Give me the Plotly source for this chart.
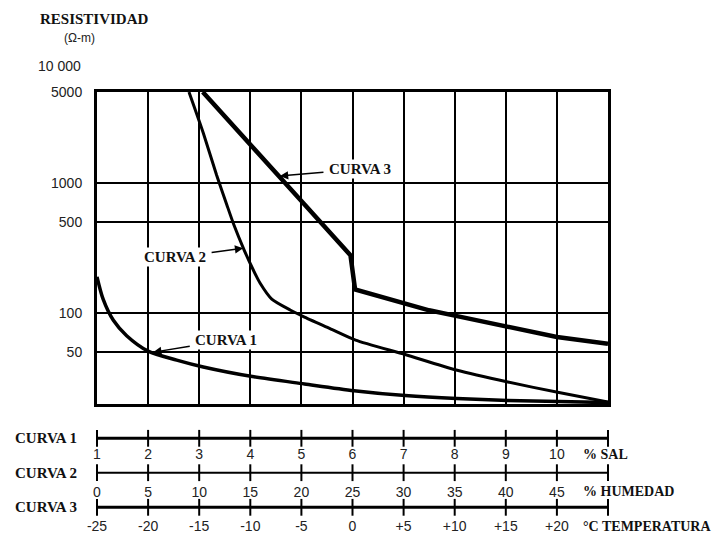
import math
import plotly.graph_objects as go

# ---------------- data ----------------
# CURVA 1 : resistividad (ohm-m) vs % SAL
sal_pct = [1.0, 1.12, 1.32, 1.58, 2.0, 2.56, 3.08, 4.04, 5.06, 6.03, 7.03, 8.04, 9.04, 10.04, 11.0]
res_curva1 = [190, 128, 88, 67, 51, 43.5, 38.5, 32.5, 28.5, 25.3, 23.2, 22.0, 21.3, 20.9, 20.5]

# CURVA 2 : resistividad vs % HUMEDAD
humedad_pct = [9.0, 10.4, 11.7, 12.7, 13.4, 14.4, 15.2, 15.95, 17.1, 18.9, 20.2, 22.8, 25.3,
               30.15, 35.15, 40.2, 45.2, 50.0]
res_curva2 = [5000, 2420, 1150, 680, 475, 305, 222, 170, 128, 105.6, 94, 76, 62,
              48, 36.5, 29.5, 24.5, 20.7]

# CURVA 3 : resistividad vs °C TEMPERATURA
temp_c = [-14.65, -12.5, -10.0, -7.5, -5.0, -2.5, -0.2, 0.25, 2.5, 5.0, 7.5, 10.0,
          12.5, 15.0, 20.0, 25.0]
res_curva3 = [5000, 3270, 1980, 1200, 727, 440, 278, 152, 136, 118, 105, 95.5,
              87, 78.5, 65.5, 58]

# axis ticks
y_ticks = [50, 100, 500, 1000, 5000]
y_ticktext = ["50", "100", "500", "1000", "5000"]
sal_ticks = list(range(1, 12))
sal_text = [str(v) for v in range(1, 11)] + [""]
hum_ticks = list(range(0, 51, 5))
hum_text = [str(v) for v in range(0, 46, 5)] + [""]
temp_ticks = list(range(-25, 26, 5))
temp_text = ["-25", "-20", "-15", "-10", "-5", "0", "+5", "+10", "+15", "+20", ""]
row_names = ["CURVA 1", "CURVA 2", "CURVA 3"]
unit_names = ["% SAL", "% HUMEDAD", "°C TEMPERATURA"]

# ---------------- layout geometry ----------------
OFF = 8                       # page body margin of the browser
W, H = 721 - OFF, 533 - OFF
ML, MR, MT, MB = 97 - OFF, 113, 92 - OFF, 20
PW = W - ML - MR
PH = H - MT - MB
BOTTOM = 533 - MB


def py(ypix):
    return (BOTTOM - ypix) / PH


def px(xpix):
    return (xpix - 97) / PW


row_pix = [438.3, 472.7, 507.3]
row_pos = [py(v) for v in row_pix]
row_label_y = [py(454), py(491), py(526)]
row_lw = [3, 2, 3]
row_standoff = [3, 6, 6]
HALF = 3.0 / PH

SERIF = "Liberation Serif"
SANS = "Liberation Sans"

fig = go.Figure()
fig.add_trace(go.Scatter(x=sal_pct, y=res_curva1, xaxis="x", yaxis="y", mode="lines",
                         line=dict(color="black", width=3.5, shape="spline", smoothing=0.8),
                         name="CURVA 1", showlegend=False))
fig.add_trace(go.Scatter(x=humedad_pct, y=res_curva2, xaxis="x5", yaxis="y", mode="lines",
                         line=dict(color="black", width=3, shape="spline", smoothing=0.6),
                         name="CURVA 2", showlegend=False))
fig.add_trace(go.Scatter(x=temp_c, y=res_curva3, xaxis="x6", yaxis="y", mode="lines",
                         line=dict(color="black", width=4.5),
                         name="CURVA 3", showlegend=False))

# the three scales under the chart: a line through the tick values with crossing ticks
scale_ticks = [sal_ticks, hum_ticks, temp_ticks]
for i in range(3):
    fig.add_trace(go.Scatter(x=scale_ticks[i], y=[0] * len(scale_ticks[i]),
                             xaxis="x%d" % (i + 2), yaxis="y%d" % (i + 2),
                             mode="lines+markers", cliponaxis=False,
                             line=dict(color="black", width=row_lw[i]),
                             marker=dict(symbol="line-ns", size=12,
                                         line=dict(color="black", width=2)),
                             hoverinfo="skip", showlegend=False))

tickfont = dict(family=SANS, size=14, color="#222")


def scale_axis(rng, tv, tt, anchor, standoff):
    return dict(anchor=anchor, domain=[0, 1], range=rng,
                tickmode="array", tickvals=tv, ticktext=tt, showline=False,
                ticks="", ticklabelstandoff=standoff,
                showgrid=False, zeroline=False, tickfont=tickfont,
                automargin=False, fixedrange=True)


def hidden_y(pos, anchor):
    return dict(domain=[pos - HALF, pos + HALF], anchor=anchor, visible=False,
                range=[-1, 1], fixedrange=True, automargin=False)


def data_axis(rng):
    return dict(overlaying="x", anchor="y", range=rng, visible=False,
                automargin=False, fixedrange=True)


layout = dict(
    template="none",
    width=W, height=H,
    margin=dict(l=ML, r=MR, t=MT, b=MB, autoexpand=False),
    paper_bgcolor="white", plot_bgcolor="white",
    showlegend=False,
    xaxis=dict(domain=[0, 1], anchor="y", range=[1, 11], tickmode="array",
               tickvals=sal_ticks, showticklabels=False, ticks="",
               showgrid=True, gridcolor="black", gridwidth=2,
               showline=True, linecolor="black", linewidth=3, mirror=True,
               zeroline=False, automargin=False, fixedrange=True),
    yaxis=dict(domain=[py(404), 1], anchor="x", type="log",
               range=[math.log10(20), math.log10(5000)],
               tickmode="array", tickvals=y_ticks, ticktext=y_ticktext,
               ticks="", ticklabelstandoff=9, tickfont=tickfont,
               showgrid=True, gridcolor="black", gridwidth=2,
               showline=True, linecolor="black", linewidth=3, mirror=True,
               zeroline=False, automargin=False, fixedrange=True),
    xaxis2=scale_axis([1, 11], sal_ticks, sal_text, "y2", row_standoff[0]),
    xaxis3=scale_axis([0, 50], hum_ticks, hum_text, "y3", row_standoff[1]),
    xaxis4=scale_axis([-25, 25], temp_ticks, temp_text, "y4", row_standoff[2]),
    yaxis2=hidden_y(row_pos[0], "x2"),
    yaxis3=hidden_y(row_pos[1], "x3"),
    yaxis4=hidden_y(row_pos[2], "x4"),
    xaxis5=data_axis([0, 50]),
    xaxis6=data_axis([-25, 25]),
)

annotations = []
annotations.append(dict(text="<b>RESISTIVIDAD</b>", xref="paper", yref="paper",
                        x=px(38), y=py(19), xanchor="left", yanchor="middle",
                        showarrow=False, font=dict(family=SERIF, size=15, color="#111")))
annotations.append(dict(text="(Ω-m)", xref="paper", yref="paper",
                        x=px(62), y=py(38), xanchor="left", yanchor="middle",
                        showarrow=False, font=dict(family=SANS, size=12, color="#222")))
annotations.append(dict(text="10 000", xref="paper", yref="paper",
                        x=px(83), y=py(66), xanchor="right", yanchor="middle",
                        showarrow=False, font=tickfont))
for i in range(3):
    annotations.append(dict(text="<b>" + row_names[i] + "</b>", xref="paper", yref="paper",
                            x=px(79), y=row_pos[i], xanchor="right", yanchor="middle",
                            showarrow=False, font=dict(family=SERIF, size=15, color="#111")))
    annotations.append(dict(text="<b>" + unit_names[i] + "</b>", xref="paper", yref="paper",
                            x=px(581), y=row_label_y[i], xanchor="left", yanchor="middle",
                            showarrow=False, font=dict(family=SERIF, size=14, color="#111")))

callouts = [
    ("CURVA 1", "x", 2.1, 50, 73, -12),
    ("CURVA 2", "x5", 14.3, 315, -68, 9),
    ("CURVA 3", "x6", -7.1, 1130, 80, -7),
]
for txt, xr, xv, yv, ax, ay in callouts:
    annotations.append(dict(text="<b>" + txt + "</b>", xref=xr, yref="y",
                            x=xv, y=math.log10(yv), ax=ax, ay=ay,
                            showarrow=True, arrowhead=2, arrowsize=1.1, arrowwidth=1.5,
                            arrowcolor="black", startstandoff=4,
                            bgcolor="white",
                            font=dict(family=SERIF, size=15, color="#111")))

layout["annotations"] = annotations
fig.update_layout(**layout)
fig.write_html("out.html")
